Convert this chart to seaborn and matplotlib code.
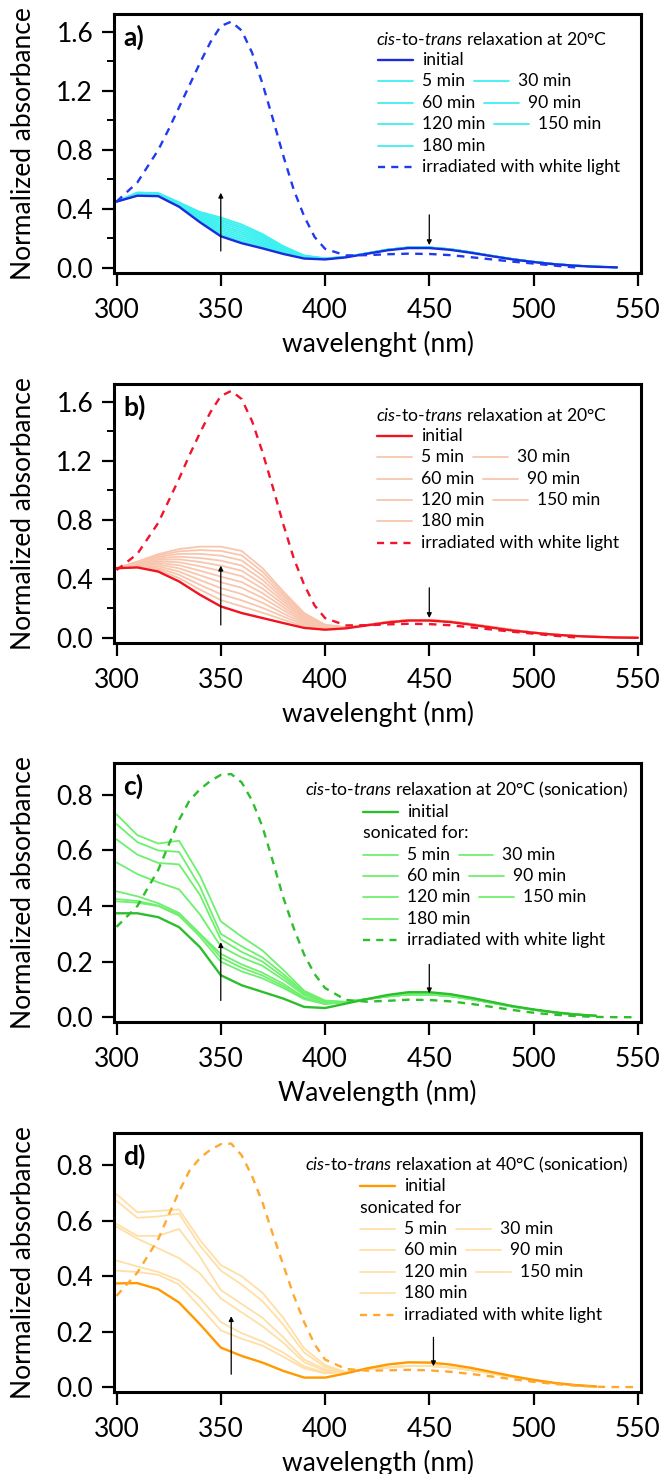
import seaborn as sns
import matplotlib.pyplot as plt
from matplotlib.ticker import MultipleLocator
from matplotlib.offsetbox import AnchoredOffsetbox, HPacker, TextArea, DrawingArea
from matplotlib.lines import Line2D

# wavelength grids (nm)
wl_a = list(range(300, 541, 10))
wl_b = list(range(300, 551, 10))
wl_cd = list(range(300, 531, 10))
wl_dash_ab = [300, 310, 320, 325, 330, 335, 340, 345, 350, 355, 360, 365, 370, 375, 380,
              385, 390, 395, 400, 410, 420, 430, 440, 450, 460, 470, 480, 490, 500, 510, 520]
wl_dash_cd = [300, 310, 320, 325, 330, 335, 340, 345, 350, 355, 360, 365, 370, 375, 380,
              385, 390, 395, 400, 410, 420, 430, 440, 450, 460, 470, 480, 490, 500, 510,
              520, 530, 540, 550]

times = ["5 min", "30 min", "60 min", "90 min", "120 min", "150 min", "180 min"]

# ---- panel a (blue) ----
initial_a = [.45, .49, .487, .415, .31, .215, .168, .133, .095, .064, .058, .072, .096, .12,
             .135, .135, .123, .103, .08, .058, .04, .025, .015, .008, .004]
light_a_head = [
    [.45, .492, .489, .418, .317, .228, .181, .143, .100, .066, .059],
    [.45, .494, .491, .421, .324, .240, .193, .152, .106, .068, .060],
    [.45, .497, .493, .424, .331, .253, .206, .162, .111, .070, .060],
    [.45, .499, .495, .427, .338, .266, .219, .172, .116, .072, .061],
    [.45, .501, .498, .430, .345, .279, .232, .182, .122, .075, .062],
    [.45, .503, .500, .433, .352, .291, .244, .191, .127, .077, .063],
    [.45, .505, .502, .436, .359, .304, .257, .201, .132, .079, .064],
    [.45, .508, .504, .439, .366, .317, .270, .211, .137, .081, .064],
    [.45, .510, .506, .442, .373, .329, .282, .220, .143, .083, .065],
    [.45, .512, .508, .445, .380, .342, .295, .230, .148, .085, .066],
]
light_a_tail = [.075, .099, .124, .139, .139, .127, .106, .082, .06, .042, .027, .016, .009, .004]
dash_a = [.45, .58, .80, .94, 1.09, 1.24, 1.39, 1.53, 1.64, 1.67, 1.61, 1.46, 1.25, 1.01, .76,
          .53, .35, .21, .13, .085, .087, .093, .097, .095, .087, .073, .058, .043, .03, .016, .004]

# ---- panel b (red) ----
initial_b = [.473, .478, .45, .383, .293, .214, .169, .135, .101, .068, .056, .065, .085, .105,
             .118, .118, .108, .09, .07, .05, .035, .022, .013, .007, .003, .001]
light_b_head = [
    [.473, .482, .463, .406, .328, .257, .214, .171, .124, .079, .060],
    [.473, .486, .474, .428, .360, .297, .255, .204, .145, .089, .063],
    [.473, .490, .486, .450, .393, .338, .298, .238, .166, .099, .066],
    [.473, .494, .498, .472, .425, .378, .340, .272, .188, .109, .070],
    [.473, .498, .509, .493, .456, .416, .379, .304, .208, .118, .073],
    [.473, .502, .520, .513, .486, .454, .419, .335, .228, .128, .076],
    [.473, .505, .530, .533, .515, .490, .456, .365, .247, .137, .079],
    [.473, .509, .540, .551, .542, .524, .491, .394, .265, .145, .082],
    [.473, .512, .550, .570, .570, .558, .526, .422, .283, .154, .085],
    [.473, .515, .560, .587, .596, .590, .560, .449, .300, .162, .088],
    [.473, .518, .568, .603, .619, .619, .590, .473, .315, .169, .090],
]
light_b_tail = [.072, .088, .108, .121, .121, .111, .094, .074, .054, .037, .023, .014, .008, .004, .002]
dash_b = [.46, .57, .78, .93, 1.08, 1.24, 1.39, 1.53, 1.64, 1.675, 1.62, 1.47, 1.26, 1.02, .77,
          .54, .36, .22, .135, .085, .086, .092, .096, .094, .086, .072, .057, .042, .029, .015, .004]

# ---- panel c (green) ----
initial_c = [.374, .374, .36, .324, .252, .151, .115, .091, .067, .037, .033, .049, .065, .08,
             .09, .09, .083, .07, .055, .04, .028, .018, .01, .005]
light_c_head = [
    [.73, .655, .625, .635, .51, .345, .29, .24, .17, .095, .06],
    [.695, .63, .60, .595, .47, .30, .255, .215, .155, .09, .058],
    [.64, .585, .555, .55, .44, .28, .235, .20, .145, .085, .055],
    [.557, .515, .485, .46, .37, .255, .215, .185, .135, .08, .053],
    [.453, .435, .41, .375, .30, .228, .19, .16, .12, .072, .05],
    [.425, .418, .402, .37, .30, .215, .178, .15, .112, .068, .048],
    [.417, .412, .40, .365, .29, .20, .165, .14, .105, .065, .047],
]
light_c_tail = [.055, .065, .075, .082, .082, .076, .065, .052, .038, .027, .017, .01, .005]
dash_c = [.325, .40, .53, .62, .71, .78, .82, .85, .872, .875, .845, .78, .685, .56, .43, .32,
          .225, .155, .105, .062, .056, .059, .063, .062, .057, .048, .037, .026, .016, .009,
          .004, .001, 0, 0]

# ---- panel d (orange) ----
initial_d = [.374, .375, .353, .305, .227, .143, .113, .089, .059, .035, .035, .05, .068, .082,
             .09, .089, .082, .07, .055, .04, .027, .016, .008, .003]
light_d_head = [
    [.695, .63, .635, .64, .53, .44, .40, .34, .25, .14, .08],
    [.671, .61, .615, .625, .51, .42, .37, .31, .225, .125, .073],
    [.588, .545, .545, .57, .47, .35, .30, .25, .18, .10, .065],
    [.578, .535, .50, .465, .41, .32, .27, .22, .16, .09, .06],
    [.456, .435, .415, .385, .32, .235, .195, .165, .125, .075, .053],
    [.42, .415, .405, .37, .29, .205, .175, .15, .11, .068, .05],
]
light_d_tail = [.055, .065, .072, .077, .077, .072, .062, .05, .037, .025, .015, .008, .003]
dash_d = [.329, .413, .533, .62, .705, .78, .825, .855, .875, .877, .835, .76, .665, .55, .44,
          .33, .234, .155, .10, .066, .06, .061, .063, .061, .056, .048, .039, .029, .02, .012,
          .006, .002, .001, .001]

# arrows: (x, y_start, y_end)
arrows_a = [(350, .115, .51), (450, .36, .155)]
arrows_b = [(350, .088, .49), (450, .34, .135)]
arrows_c = [(350, .06, .27), (450, .19, .086)]
arrows_d = [(355, .047, .256), (452, .18, .076)]

sns.set_theme(style="ticks")
plt.rcParams['font.family'] = ['Lato', 'DejaVu Sans']
plt.rcParams['mathtext.fontset'] = 'custom'
plt.rcParams['mathtext.it'] = 'Lato:italic'
plt.rcParams['mathtext.rm'] = 'Lato'
plt.rcParams['text.color'] = 'black'
plt.rcParams['axes.labelcolor'] = 'black'
plt.rcParams['xtick.color'] = 'black'
plt.rcParams['ytick.color'] = 'black'

TICK_FS = 19
LEG_FS = 12.6
DASH = (0, (3.2, 2.7))

fig = plt.figure(figsize=(6.63, 14.74), dpi=100)
bottoms = [0.8148, 0.5638, 0.3067, 0.0556]


def key(color, ls, lw):
    da = DrawingArea(25, 8, 0, 0)
    da.add_artist(Line2D([0, 25], [4, 4], color=color, ls=ls, lw=lw))
    return da


def legend_rows(ax, x, y0, rows):
    step = 0.0826
    for i, row in enumerate(rows):
        if isinstance(row, str):
            child = TextArea(row, textprops=dict(fontsize=LEG_FS, color="black"))
        else:
            parts = []
            for lab, col, ls, lw in row:
                parts.append(key(col, ls, lw))
                parts.append(TextArea(lab, textprops=dict(fontsize=LEG_FS, color="black")))
            child = HPacker(children=parts, sep=6.5, pad=0, align="center")
        box = AnchoredOffsetbox(loc="center left", child=child, pad=0, borderpad=0,
                                frameon=False, bbox_to_anchor=(x, y0 - i * step),
                                bbox_transform=ax.transAxes)
        ax.add_artist(box)


def panel(idx, wl, initial, heads, tail, wl_dash, dash, cols, ylim, ytick_step, minor,
          tag, xlabel, arrows, title, title_pos, leg_x, leg_y, sonic=None):
    ax = fig.add_axes([0.172, bottoms[idx], 0.795, 0.1757])
    for h in heads:
        sns.lineplot(x=wl, y=h + tail, ax=ax, color=cols[1], lw=1.3)
    sns.lineplot(x=wl, y=initial, ax=ax, color=cols[0], lw=1.7)
    sns.lineplot(x=wl_dash, y=dash, ax=ax, color=cols[2], lw=1.7, linestyle=DASH)
    for x, y1, y2 in arrows:
        ax.annotate("", xy=(x, y2), xytext=(x, y1),
                    arrowprops=dict(arrowstyle="-|>", color="black", lw=0.9,
                                    mutation_scale=7, shrinkA=0, shrinkB=0))
    ax.set_xlim(298.8, 551.6)
    ax.set_ylim(*ylim)
    ax.set_xticks(range(300, 551, 50))
    ax.yaxis.set_major_locator(MultipleLocator(ytick_step))
    if minor:
        ax.yaxis.set_minor_locator(MultipleLocator(minor))
    ax.yaxis.set_major_formatter(plt.FormatStrFormatter("%.1f"))
    ax.tick_params(axis="both", which="major", direction="out", length=9, width=1.6,
                   labelsize=TICK_FS, color="black", labelcolor="black")
    ax.tick_params(axis="x", pad=9)
    ax.tick_params(axis="y", pad=6)
    ax.tick_params(axis="y", which="minor", direction="out", length=5, width=1.4, color="black")
    for s in ax.spines.values():
        s.set_linewidth(2.2)
        s.set_color("black")
    ax.set_xlabel(xlabel, fontsize=TICK_FS, color="black")
    ax.set_ylabel("Normalized absorbance", fontsize=TICK_FS, color="black")
    ax.xaxis.set_label_coords(0.5, -0.225)
    ax.yaxis.set_label_coords(-0.148, 0.5)
    ax.text(0.017, 0.91, tag, transform=ax.transAxes, fontsize=19, fontweight="bold",
            va="center", ha="left", color="black")
    ax.text(title_pos[0], title_pos[1], title, transform=ax.transAxes, fontsize=LEG_FS,
            va="center", ha=title_pos[2], color="black")
    rows = [[("initial", cols[0], "-", 1.7)]]
    if sonic:
        rows.append(sonic)
    rows += [[(times[0], cols[1], "-", 1.3), (times[1], cols[1], "-", 1.3)],
             [(times[2], cols[1], "-", 1.3), (times[3], cols[1], "-", 1.3)],
             [(times[4], cols[1], "-", 1.3), (times[5], cols[1], "-", 1.3)],
             [(times[6], cols[1], "-", 1.3)],
             [("irradiated with white light", cols[2], (0, (3.0, 2.6)), 1.7)]]
    legend_rows(ax, leg_x, leg_y, rows)
    return ax


title20 = r"$\it{cis}$-to-$\it{trans}$ relaxation at 20°C"
panel(0, wl_a, initial_a, light_a_head, light_a_tail, wl_dash_ab, dash_a,
      ["#1c2bdb", "#3ff0f0", "#1f3bf0"], (-0.034, 1.722), 0.4, 0.2, "a)",
      "wavelenght (nm)", arrows_a, title20, (0.497, 0.90, "left"), 0.501, 0.822)
panel(1, wl_b, initial_b, light_b_head, light_b_tail, wl_dash_ab, dash_b,
      ["#f0141e", "#f8c6ae", "#f0142d"], (-0.034, 1.722), 0.4, 0.2, "b)",
      "wavelenght (nm)", arrows_b, title20, (0.497, 0.88, "left"), 0.499, 0.80)
panel(2, wl_cd, initial_c, light_c_head, light_c_tail, wl_dash_cd, dash_c,
      ["#2dbe2d", "#6ef06e", "#2dbe2d"], (-0.017, 0.915), 0.2, None, "c)",
      "Wavelength (nm)", arrows_c,
      r"$\it{cis}$-to-$\it{trans}$ relaxation at 20°C (sonication)",
      (0.975, 0.896, "right"), 0.472, 0.811, sonic="sonicated for:")
panel(3, wl_cd, initial_d, light_d_head, light_d_tail, wl_dash_cd, dash_d,
      ["#ff9a00", "#ffdfa6", "#ffa830"], (-0.017, 0.915), 0.2, None, "d)",
      "wavelength (nm)", arrows_d,
      r"$\it{cis}$-to-$\it{trans}$ relaxation at 40°C (sonication)",
      (0.975, 0.876, "right"), 0.467, 0.795, sonic="sonicated for")

fig.savefig("out.png", dpi=100)
